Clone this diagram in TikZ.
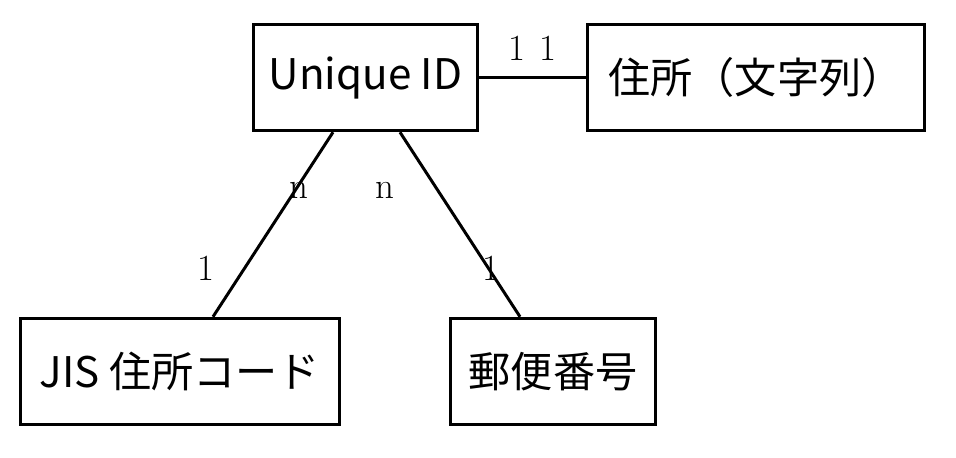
\documentclass[tikz,border=0pt]{standalone}
\usepackage{fontspec}
\newfontfamily\jpfont{Noto Sans CJK JP}
\tikzset{
    entity/.style={draw, line width=1.7pt, minimum height=2.13cm, inner sep=0pt,
        font=\jpfont\fontsize{24}{28}\selectfont},
    card/.style={font=\fontsize{21}{24}\selectfont, inner sep=0pt}
}

\begin{document}
\begin{tikzpicture}[x=0.02cm, y=-0.02cm]
        \useasboundingbox (0, 0) rectangle (956, 457);

        \node[entity, minimum width=4.5cm] (uid) at (365.5, 77.5) {Unique ID};
        \node[entity, minimum width=6.76cm] (addr) at (756, 77.5) {住所（文字列）};
        \node[entity, minimum width=6.4cm] (jis) at (180, 371.5) {JIS 住所コード};
        \node[entity, minimum width=4.12cm] (zip) at (553, 371.5) {郵便番号};

        \draw[line width=1.7pt] (uid) -- (addr);
        \draw[line width=1.7pt] ([xshift=-0.65cm]uid.south) -- ([xshift=0.66cm]jis.north);
        \draw[line width=1.7pt] ([xshift=0.69cm]uid.south) -- ([xshift=-0.66cm]zip.north);

        \node[card] (uid-addr) at (517, 48) {1};
        \node[card] (addr-uid) at (548, 48) {1};
        \node[card] (uid-jis) at (299, 190) {n};
        \node[card] (uid-zip) at (385, 190) {n};
        \node[card] (jis-uid) at (206, 268) {1};
        \node[card] (zip-uid) at (491, 268) {1};
    \end{tikzpicture}
\end{document}
